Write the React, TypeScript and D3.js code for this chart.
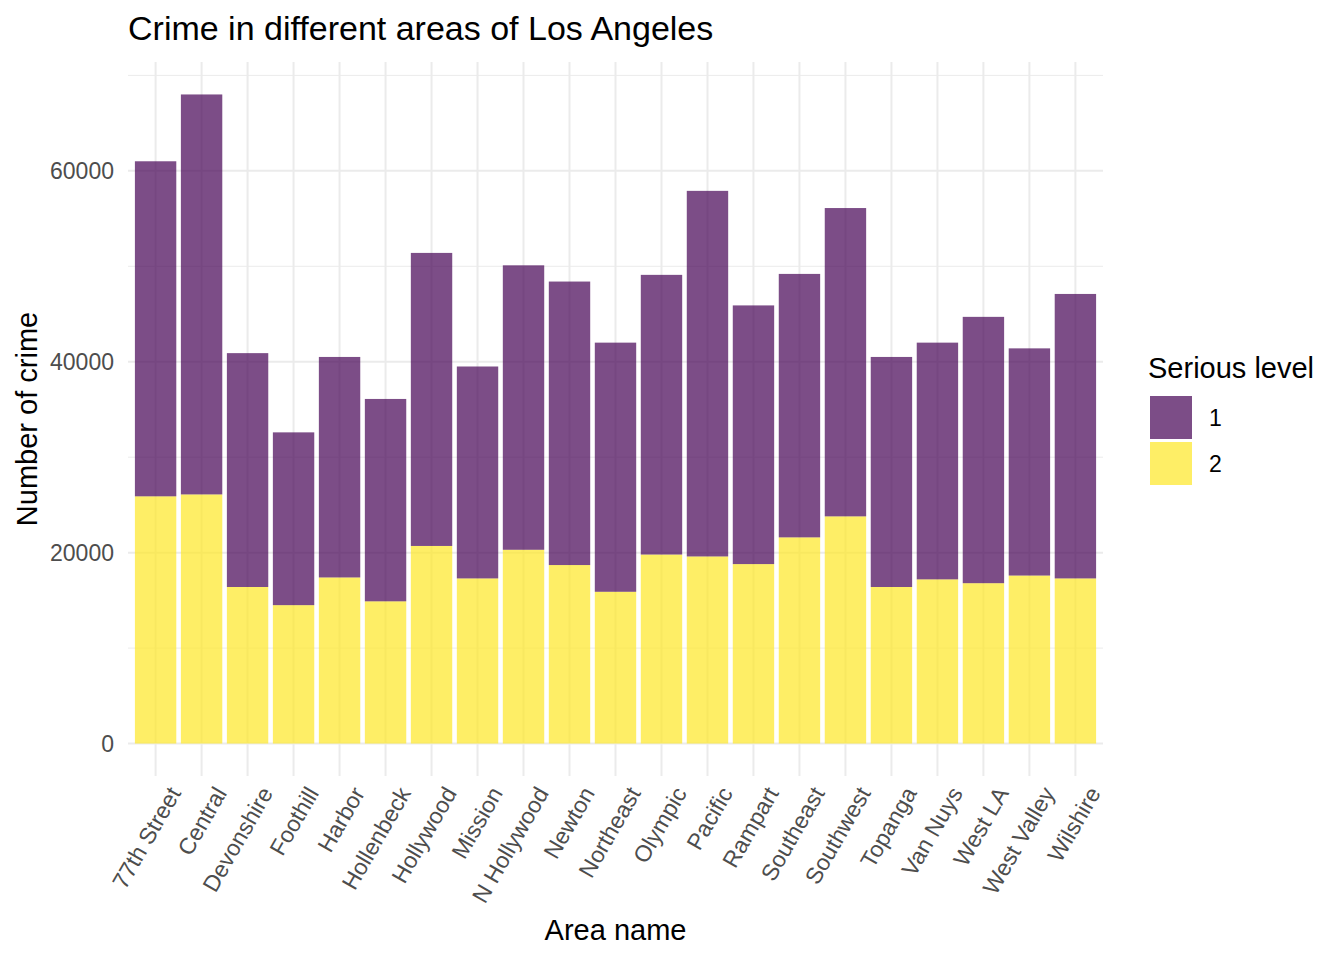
import React from "react";
import * as d3 from "d3";

const areas = [
  "77th Street", "Central", "Devonshire", "Foothill", "Harbor", "Hollenbeck", "Hollywood",
  "Mission", "N Hollywood", "Newton", "Northeast", "Olympic", "Pacific", "Rampart",
  "Southeast", "Southwest", "Topanga", "Van Nuys", "West LA", "West Valley", "Wilshire",
];

// serious level 2 (bottom, yellow)
const level2 = [
  25900, 26100, 16400, 14500, 17400, 14900, 20700,
  17300, 20300, 18700, 15900, 19800, 19600, 18800,
  21600, 23800, 16400, 17200, 16800, 17600, 17300,
];

// serious level 1 (top, purple)
const level1 = [
  35100, 41900, 24500, 18100, 23100, 21200, 30700,
  22200, 29800, 29700, 26100, 29300, 38300, 27100,
  27600, 32300, 24100, 24800, 27900, 23800, 29800,
];

const levels = ["1", "2"];
const levelColors = ["#440154", "#FDE725"];
const yTicks = [0, 20000, 40000, 60000];
const yMinor = [10000, 30000, 50000, 70000];

const W = 1344;
const H = 960;
const panel = { left: 128, right: 1103, top: 62, bottom: 776 };
const font = "Liberation Sans, Arial, sans-serif";

export default function App() {
  const totals = areas.map((_, i) => level1[i] + level2[i]);
  const maxTotal = d3.max(totals) as number;
  const pad = maxTotal * 0.05;

  const y = d3.scaleLinear()
    .domain([-pad, maxTotal + pad])
    .range([panel.bottom, panel.top]);

  const n = areas.length;
  const step = (panel.right - panel.left) / (n - 1 + 1.2);
  const x = d3.scalePoint<string>()
    .domain(areas)
    .range([panel.left + 0.6 * step, panel.right - 0.6 * step]);
  const barW = step * 0.9;

  const stackData = areas.map((a, i) => ({ area: a, "2": level2[i], "1": level1[i] }));
  const series = d3.stack<any>().keys(["2", "1"])(stackData);

  return (
    <svg width={W} height={H} style={{ position: "absolute", left: 0, top: 0 }} fontFamily={font}>
      <rect x={0} y={0} width={W} height={H} fill="#fff" />
      {/* grid */}
      {yMinor.map((t) => (
        <line key={"m" + t} x1={panel.left} x2={panel.right} y1={y(t)} y2={y(t)} stroke="#ebebeb" strokeWidth={1} />
      ))}
      {yTicks.map((t) => (
        <line key={"g" + t} x1={panel.left} x2={panel.right} y1={y(t)} y2={y(t)} stroke="#ebebeb" strokeWidth={2} />
      ))}
      {areas.map((a) => (
        <line key={"v" + a} x1={x(a)} x2={x(a)} y1={panel.top} y2={panel.bottom} stroke="#ebebeb" strokeWidth={2} />
      ))}
      {/* bars */}
      {series.map((s) => (
        <g key={s.key} fill={levelColors[levels.indexOf(s.key)]} fillOpacity={0.7}>
          {s.map((d: any, i: number) => (
            <rect
              key={i}
              x={(x(areas[i]) as number) - barW / 2}
              width={barW}
              y={y(d[1])}
              height={y(d[0]) - y(d[1])}
            />
          ))}
        </g>
      ))}
      {/* y axis labels */}
      {yTicks.map((t) => (
        <text key={"yt" + t} x={114} y={y(t)} dy="0.36em" textAnchor="end" fontSize={23} fill="#4d4d4d">
          {t}
        </text>
      ))}
      {/* x axis labels */}
      {areas.map((a) => (
        <text
          key={"xt" + a}
          transform={`translate(${(x(a) as number) + 19},${789}) rotate(-60)`}
          textAnchor="end"
          dy="0.35em"
          fontSize={23}
          fill="#4d4d4d"
        >
          {a}
        </text>
      ))}
      {/* titles */}
      <text x={128} y={40} fontSize={34} fill="#000">Crime in different areas of Los Angeles</text>
      <text x={(panel.left + panel.right) / 2} y={940} textAnchor="middle" fontSize={29} fill="#000">Area name</text>
      <text transform={`translate(37,${(panel.top + panel.bottom) / 2}) rotate(-90)`} textAnchor="middle" fontSize={29} fill="#000">
        Number of crime
      </text>
      {/* legend */}
      <text x={1148} y={378} fontSize={29} fill="#000">Serious level</text>
      {levels.map((l, i) => (
        <g key={"lg" + l} transform={`translate(1150,${396 + i * 46})`}>
          <rect width={42} height={43} fill={levelColors[i]} fillOpacity={0.7} />
          <text x={59} y={21.5} dy="0.36em" fontSize={23} fill="#000">{l}</text>
        </g>
      ))}
    </svg>
  );
}
